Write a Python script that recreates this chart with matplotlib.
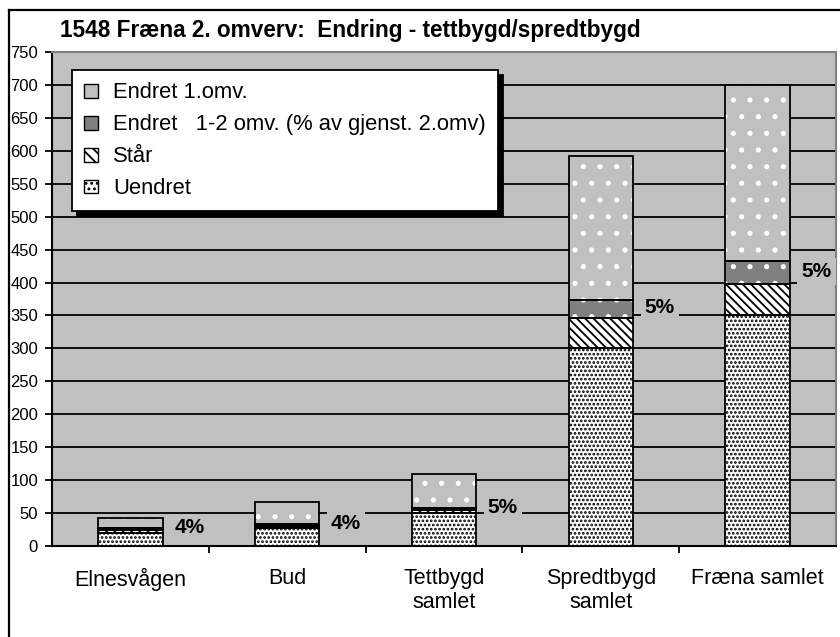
import matplotlib.pyplot as plt
from matplotlib.patches import Patch
from matplotlib.lines import Line2D
import numpy as np

plt.rcParams["font.family"] = ["Liberation Sans", "DejaVu Sans"]
plt.rcParams["hatch.linewidth"] = 1.3

# data
categories = ["Elnesvågen", "Bud", "Tettbygd\nsamlet", "Spredtbygd\nsamlet", "Fræna samlet"]
uendret = [20, 27, 50, 300, 350]
staar = [5, 4, 5, 46, 48]
endret_12 = [2, 2, 3, 27, 34]
endret_1 = [15, 34, 51, 219, 268]
pct_labels = ["4%", "4%", "5%", "5%", "5%"]

title = "1548 Fræna 2. omverv:  Endring - tettbygd/spredtbygd"
series_names = ["Endret 1.omv.", "Endret   1-2 omv. (% av gjenst. 2.omv)", "Står", "Uendret"]

bg = "#c0c0c0"
dark = "#808080"

fig = plt.figure(figsize=(8.4, 6.37), dpi=100)
ax = fig.add_axes([52 / 840, 1 - 546 / 637, 784 / 840, 494 / 637])
ax.set_facecolor(bg)

x = np.arange(len(categories))
w = 0.41
lw = 1.3

b1 = np.array(uendret, dtype=float)
b2 = b1 + np.array(staar)
b3 = b2 + np.array(endret_12)

# Uendret: black dots on white
ax.bar(x, uendret, w, color="white", edgecolor="black", hatch="....", linewidth=0, zorder=3)
ax.bar(x, uendret, w, fill=False, edgecolor="black", linewidth=lw, zorder=4)
# Står: diagonal lines
ax.bar(x, staar, w, bottom=b1, color="white", edgecolor="black", hatch="\\\\\\\\", linewidth=0, zorder=3)
ax.bar(x, staar, w, bottom=b1, fill=False, edgecolor="black", linewidth=lw, zorder=4)
# Endret 1-2: dark grey, white specks
ax.bar(x, endret_12, w, bottom=b2, color=dark, edgecolor="white", hatch=".", linewidth=0, zorder=3)
ax.bar(x, endret_12, w, bottom=b2, fill=False, edgecolor="black", linewidth=lw, zorder=4)
# Endret 1: light grey, white specks
ax.bar(x, endret_1, w, bottom=b3, color=bg, edgecolor="white", hatch=".", linewidth=0, zorder=3)
ax.bar(x, endret_1, w, bottom=b3, fill=False, edgecolor="black", linewidth=lw, zorder=4)

for i, lab in enumerate(pct_labels):
    ymid = b2[i] + endret_12[i] / 2 + 2
    ax.text(x[i] + w / 2 + 0.075, ymid, lab, ha="left", va="center",
            fontsize=15, fontweight="bold", zorder=6,
            bbox=dict(facecolor=bg, edgecolor="none", pad=3))

ax.set_xlim(-0.5, len(categories) - 0.5)
ax.set_ylim(0, 750)
ax.set_yticks(np.arange(0, 751, 50))
ax.yaxis.grid(True, color="black", linewidth=1.3, zorder=1)
ax.set_axisbelow(True)
ax.tick_params(axis="y", labelsize=12, length=5, width=1.3, pad=5, direction="out")

ax.set_xticks(x)
ax.set_xticklabels(categories, fontsize=15.5, linespacing=1.2)
ax.set_xticks(np.arange(0.5, len(categories) - 0.5, 1), minor=True)
ax.tick_params(axis="x", which="major", length=0, pad=16)
ax.tick_params(axis="x", which="minor", length=5, width=1.3, direction="out")

for s in ["left", "bottom"]:
    ax.spines[s].set_color("black")
    ax.spines[s].set_linewidth(1.5)
for s in ["top", "right"]:
    ax.spines[s].set_color(dark)
    ax.spines[s].set_linewidth(1.5)

handles = [
    Patch(facecolor=bg, edgecolor="black", linewidth=1),
    Patch(facecolor=dark, edgecolor="black", linewidth=1),
    Patch(facecolor="white", edgecolor="black", hatch="\\\\\\", linewidth=1),
    Patch(facecolor="white", edgecolor="black", hatch="...", linewidth=1),
]
leg = ax.legend(handles, series_names, loc="upper left", bbox_to_anchor=(0.026, 0.963),
                fontsize=15.8, frameon=True, fancybox=False, edgecolor="black",
                framealpha=1, handlelength=0.6, handleheight=0.6, handletextpad=0.7,
                labelspacing=0.5, borderpad=0.55, borderaxespad=0,
                shadow={"color": "black", "alpha": 1, "ox": 3.5, "oy": -3.5})
leg.get_frame().set_linewidth(1.3)
leg.set_zorder(10)

fig.text(60 / 840, 1 - 30 / 637, title, ha="left", va="center", fontsize=16.3, fontweight="bold")

# outer chart border (cut off on right and bottom)
fig.add_artist(Line2D([9 / 840, 1], [1 - 10 / 637, 1 - 10 / 637], color="black", linewidth=1.6))
fig.add_artist(Line2D([9 / 840, 9 / 840], [0, 1 - 10 / 637], color="black", linewidth=1.6))

fig.savefig("out.png", dpi=100)
